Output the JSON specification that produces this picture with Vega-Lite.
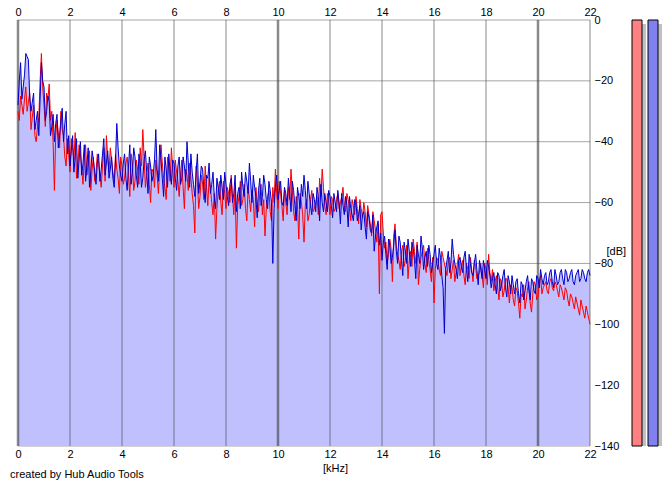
{
  "$schema": "https://vega.github.io/schema/vega-lite/v6.json",
  "description": "Spectrum analyser view, left (red) and right (blue) channels",
  "autosize": {"type": "none"},
  "padding": {"left": 18, "top": 20, "right": 82, "bottom": 40},
  "width": 572,
  "height": 426,
  "background": "white",
  "config": {
    "view": {"stroke": null},
    "font": "Liberation Sans",
    "axis": {"labelFont": "Liberation Sans", "labelFontSize": 11, "labelColor": "black", "titleFont": "Liberation Sans", "titleFontSize": 11, "titleFontWeight": "normal", "titleColor": "black"}
  },
  "title": {
    "text": "created by Hub Audio Tools",
    "orient": "bottom",
    "anchor": "start",
    "frame": "group",
    "fontSize": 11,
    "fontWeight": "normal",
    "font": "Liberation Sans",
    "color": "black",
    "offset": 0,
    "dx": -8,
    "dy": -4
  },
  "datasets": {
    "spec": [
      {"f":0.0,"b":-28,"r":-30},{"f":0.05,"b":-20,"r":-33},{"f":0.1,"b":-14,"r":-25},{"f":0.15,"b":-26,"r":-28},{"f":0.2,"b":-22,"r":-31},{"f":0.25,"b":-18,"r":-26},
      {"f":0.3,"b":-11,"r":-22},{"f":0.35,"b":-12,"r":-30},{"f":0.4,"b":-13,"r":-27},{"f":0.45,"b":-25,"r":-24},{"f":0.5,"b":-30,"r":-36},{"f":0.55,"b":-27,"r":-32},
      {"f":0.6,"b":-24,"r":-28},{"f":0.65,"b":-36,"r":-38},{"f":0.7,"b":-33,"r":-40},{"f":0.75,"b":-30,"r":-35},{"f":0.8,"b":-38,"r":-32},{"f":0.85,"b":-26,"r":-20},
      {"f":0.9,"b":-14,"r":-11},{"f":0.95,"b":-20,"r":-22},{"f":1.0,"b":-22,"r":-28},{"f":1.05,"b":-33,"r":-35},{"f":1.1,"b":-30,"r":-24},{"f":1.15,"b":-25,"r":-26},
      {"f":1.2,"b":-27,"r":-21},{"f":1.25,"b":-38,"r":-33},{"f":1.3,"b":-35,"r":-30},{"f":1.35,"b":-31,"r":-40},{"f":1.4,"b":-40,"r":-56},{"f":1.45,"b":-34,"r":-38},
      {"f":1.5,"b":-31,"r":-33},{"f":1.55,"b":-42,"r":-37},{"f":1.6,"b":-38,"r":-42},{"f":1.65,"b":-33,"r":-30},{"f":1.7,"b":-29,"r":-36},{"f":1.75,"b":-40,"r":-38},
      {"f":1.8,"b":-34,"r":-45},{"f":1.85,"b":-30,"r":-48},{"f":1.9,"b":-44,"r":-39},{"f":1.95,"b":-38,"r":-44},{"f":2.0,"b":-48,"r":-50},{"f":2.05,"b":-43,"r":-39},
      {"f":2.1,"b":-38,"r":-42},{"f":2.15,"b":-50,"r":-46},{"f":2.2,"b":-45,"r":-37},{"f":2.25,"b":-39,"r":-52},{"f":2.3,"b":-52,"r":-48},{"f":2.35,"b":-46,"r":-41},
      {"f":2.4,"b":-40,"r":-44},{"f":2.45,"b":-51,"r":-49},{"f":2.5,"b":-47,"r":-54},{"f":2.55,"b":-41,"r":-45},{"f":2.6,"b":-53,"r":-41},{"f":2.65,"b":-48,"r":-51},
      {"f":2.7,"b":-42,"r":-47},{"f":2.75,"b":-55,"r":-43},{"f":2.8,"b":-50,"r":-56},{"f":2.85,"b":-43,"r":-49},{"f":2.9,"b":-46,"r":-45},{"f":2.95,"b":-50,"r":-53},
      {"f":3.0,"b":-54,"r":-50},{"f":3.05,"b":-47,"r":-44},{"f":3.1,"b":-44,"r":-47},{"f":3.15,"b":-53,"r":-51},{"f":3.2,"b":-49,"r":-55},{"f":3.25,"b":-44,"r":-48},
      {"f":3.3,"b":-39,"r":-42},{"f":3.35,"b":-51,"r":-53},{"f":3.4,"b":-47,"r":-38},{"f":3.45,"b":-43,"r":-45},{"f":3.5,"b":-52,"r":-50},{"f":3.55,"b":-49,"r":-42},
      {"f":3.6,"b":-45,"r":-46},{"f":3.65,"b":-52,"r":-50},{"f":3.7,"b":-55,"r":-53},{"f":3.75,"b":-46,"r":-44},{"f":3.8,"b":-34,"r":-49},{"f":3.85,"b":-42,"r":-52},
      {"f":3.9,"b":-48,"r":-57},{"f":3.95,"b":-51,"r":-45},{"f":4.0,"b":-53,"r":-48},{"f":4.05,"b":-47,"r":-54},{"f":4.1,"b":-44,"r":-52},{"f":4.15,"b":-52,"r":-47},
      {"f":4.2,"b":-56,"r":-45},{"f":4.25,"b":-48,"r":-51},{"f":4.3,"b":-41,"r":-58},{"f":4.35,"b":-54,"r":-44},{"f":4.4,"b":-50,"r":-47},{"f":4.45,"b":-42,"r":-56},
      {"f":4.5,"b":-45,"r":-53},{"f":4.55,"b":-51,"r":-46},{"f":4.6,"b":-55,"r":-49},{"f":4.65,"b":-44,"r":-54},{"f":4.7,"b":-47,"r":-42},{"f":4.75,"b":-55,"r":-48},
      {"f":4.8,"b":-52,"r":-36},{"f":4.85,"b":-46,"r":-45},{"f":4.9,"b":-43,"r":-55},{"f":4.95,"b":-50,"r":-51},{"f":5.0,"b":-57,"r":-47},{"f":5.05,"b":-45,"r":-54},
      {"f":5.1,"b":-48,"r":-60},{"f":5.15,"b":-53,"r":-49},{"f":5.2,"b":-51,"r":-50},{"f":5.25,"b":-46,"r":-55},{"f":5.3,"b":-36,"r":-46},{"f":5.35,"b":-49,"r":-51},
      {"f":5.4,"b":-53,"r":-57},{"f":5.45,"b":-41,"r":-49},{"f":5.5,"b":-46,"r":-41},{"f":5.55,"b":-52,"r":-47},{"f":5.6,"b":-58,"r":-52},{"f":5.65,"b":-45,"r":-55},
      {"f":5.7,"b":-49,"r":-59},{"f":5.75,"b":-55,"r":-45},{"f":5.8,"b":-44,"r":-48},{"f":5.85,"b":-50,"r":-53},{"f":5.9,"b":-54,"r":-42},{"f":5.95,"b":-46,"r":-49},
      {"f":6.0,"b":-47,"r":-55},{"f":6.05,"b":-52,"r":-46},{"f":6.1,"b":-56,"r":-50},{"f":6.15,"b":-48,"r":-53},{"f":6.2,"b":-45,"r":-58},{"f":6.25,"b":-54,"r":-51},
      {"f":6.3,"b":-52,"r":-46},{"f":6.35,"b":-45,"r":-55},{"f":6.4,"b":-48,"r":-62},{"f":6.45,"b":-53,"r":-49},{"f":6.5,"b":-40,"r":-51},{"f":6.55,"b":-47,"r":-56},
      {"f":6.6,"b":-55,"r":-47},{"f":6.65,"b":-44,"r":-52},{"f":6.7,"b":-50,"r":-57},{"f":6.75,"b":-54,"r":-61},{"f":6.8,"b":-58,"r":-70},{"f":6.85,"b":-50,"r":-48},
      {"f":6.9,"b":-44,"r":-53},{"f":6.95,"b":-57,"r":-62},{"f":7.0,"b":-53,"r":-58},{"f":7.05,"b":-48,"r":-51},{"f":7.1,"b":-49,"r":-54},{"f":7.15,"b":-56,"r":-59},
      {"f":7.2,"b":-60,"r":-48},{"f":7.25,"b":-51,"r":-55},{"f":7.3,"b":-52,"r":-61},{"f":7.35,"b":-47,"r":-52},{"f":7.4,"b":-57,"r":-55},{"f":7.45,"b":-54,"r":-60},
      {"f":7.5,"b":-50,"r":-64},{"f":7.55,"b":-58,"r":-57},{"f":7.6,"b":-62,"r":-72},{"f":7.65,"b":-52,"r":-62},{"f":7.7,"b":-55,"r":-56},{"f":7.75,"b":-59,"r":-53},
      {"f":7.8,"b":-51,"r":-60},{"f":7.85,"b":-55,"r":-64},{"f":7.9,"b":-59,"r":-53},{"f":7.95,"b":-50,"r":-57},{"f":8.0,"b":-54,"r":-62},{"f":8.05,"b":-58,"r":-55},
      {"f":8.1,"b":-61,"r":-57},{"f":8.15,"b":-54,"r":-60},{"f":8.2,"b":-52,"r":-51},{"f":8.25,"b":-60,"r":-58},{"f":8.3,"b":-57,"r":-64},{"f":8.35,"b":-51,"r":-55},
      {"f":8.4,"b":-63,"r":-75},{"f":8.45,"b":-57,"r":-61},{"f":8.5,"b":-55,"r":-58},{"f":8.55,"b":-62,"r":-53},{"f":8.6,"b":-50,"r":-61},{"f":8.65,"b":-55,"r":-59},
      {"f":8.7,"b":-58,"r":-54},{"f":8.75,"b":-50,"r":-62},{"f":8.8,"b":-53,"r":-66},{"f":8.85,"b":-57,"r":-55},{"f":8.9,"b":-47,"r":-59},{"f":8.95,"b":-53,"r":-63},
      {"f":9.0,"b":-60,"r":-56},{"f":9.05,"b":-51,"r":-59},{"f":9.1,"b":-55,"r":-68},{"f":9.15,"b":-58,"r":-55},{"f":9.2,"b":-65,"r":-60},{"f":9.25,"b":-56,"r":-63},
      {"f":9.3,"b":-52,"r":-57},{"f":9.35,"b":-61,"r":-54},{"f":9.4,"b":-58,"r":-64},{"f":9.45,"b":-51,"r":-59},{"f":9.5,"b":-54,"r":-71},{"f":9.55,"b":-59,"r":-62},
      {"f":9.6,"b":-62,"r":-58},{"f":9.65,"b":-53,"r":-56},{"f":9.7,"b":-56,"r":-63},{"f":9.75,"b":-60,"r":-66},{"f":9.8,"b":-80,"r":-55},{"f":9.85,"b":-62,"r":-60},
      {"f":9.9,"b":-55,"r":-49},{"f":9.95,"b":-51,"r":-57},{"f":10.0,"b":-59,"r":-62},{"f":10.05,"b":-56,"r":-53},{"f":10.1,"b":-53,"r":-57},{"f":10.15,"b":-60,"r":-61},
      {"f":10.2,"b":-61,"r":-66},{"f":10.25,"b":-55,"r":-56},{"f":10.3,"b":-57,"r":-60},{"f":10.35,"b":-61,"r":-64},{"f":10.4,"b":-52,"r":-55},{"f":10.45,"b":-57,"r":-59},
      {"f":10.5,"b":-63,"r":-49},{"f":10.55,"b":-53,"r":-56},{"f":10.6,"b":-56,"r":-63},{"f":10.65,"b":-61,"r":-66},{"f":10.7,"b":-66,"r":-58},{"f":10.75,"b":-55,"r":-61},
      {"f":10.8,"b":-58,"r":-72},{"f":10.85,"b":-62,"r":-57},{"f":10.9,"b":-54,"r":-60},{"f":10.95,"b":-58,"r":-64},{"f":11.0,"b":-51,"r":-73},{"f":11.05,"b":-56,"r":-61},
      {"f":11.1,"b":-62,"r":-59},{"f":11.15,"b":-53,"r":-66},{"f":11.2,"b":-57,"r":-64},{"f":11.25,"b":-61,"r":-59},{"f":11.3,"b":-64,"r":-56},{"f":11.35,"b":-57,"r":-63},
      {"f":11.4,"b":-59,"r":-62},{"f":11.45,"b":-63,"r":-60},{"f":11.5,"b":-55,"r":-58},{"f":11.55,"b":-58,"r":-64},{"f":11.6,"b":-66,"r":-52},{"f":11.65,"b":-54,"r":-58},
      {"f":11.7,"b":-60,"r":-49},{"f":11.75,"b":-63,"r":-55},{"f":11.8,"b":-57,"r":-61},{"f":11.85,"b":-60,"r":-64},{"f":11.9,"b":-63,"r":-57},{"f":11.95,"b":-56,"r":-60},
      {"f":12.0,"b":-58,"r":-64},{"f":12.05,"b":-61,"r":-58},{"f":12.1,"b":-65,"r":-59},{"f":12.15,"b":-57,"r":-63},{"f":12.2,"b":-60,"r":-62},{"f":12.25,"b":-63,"r":-59},
      {"f":12.3,"b":-56,"r":-57},{"f":12.35,"b":-60,"r":-62},{"f":12.4,"b":-67,"r":-60},{"f":12.45,"b":-57,"r":-58},{"f":12.5,"b":-61,"r":-55},{"f":12.55,"b":-64,"r":-61},
      {"f":12.6,"b":-58,"r":-63},{"f":12.65,"b":-61,"r":-57},{"f":12.7,"b":-68,"r":-59},{"f":12.75,"b":-58,"r":-62},{"f":12.8,"b":-62,"r":-66},{"f":12.85,"b":-64,"r":-59},
      {"f":12.9,"b":-66,"r":-61},{"f":12.95,"b":-59,"r":-64},{"f":13.0,"b":-60,"r":-58},{"f":13.05,"b":-66,"r":-62},{"f":13.1,"b":-64,"r":-67},{"f":13.15,"b":-61,"r":-59},
      {"f":13.2,"b":-69,"r":-62},{"f":13.25,"b":-64,"r":-65},{"f":13.3,"b":-63,"r":-60},{"f":13.35,"b":-68,"r":-63},{"f":13.4,"b":-72,"r":-68},{"f":13.45,"b":-63,"r":-61},
      {"f":13.5,"b":-65,"r":-64},{"f":13.55,"b":-69,"r":-67},{"f":13.6,"b":-70,"r":-71},{"f":13.65,"b":-64,"r":-63},{"f":13.7,"b":-76,"r":-66},{"f":13.75,"b":-71,"r":-69},
      {"f":13.8,"b":-68,"r":-73},{"f":13.85,"b":-66,"r":-67},{"f":13.9,"b":-74,"r":-90},{"f":13.95,"b":-70,"r":-64},{"f":14.0,"b":-79,"r":-63},{"f":14.05,"b":-73,"r":-70},
      {"f":14.1,"b":-71,"r":-75},{"f":14.15,"b":-77,"r":-73},{"f":14.2,"b":-82,"r":-80},{"f":14.25,"b":-72,"r":-77},{"f":14.3,"b":-74,"r":-72},{"f":14.35,"b":-80,"r":-75},
      {"f":14.4,"b":-78,"r":-86},{"f":14.45,"b":-74,"r":-71},{"f":14.5,"b":-69,"r":-67},{"f":14.55,"b":-76,"r":-74},{"f":14.6,"b":-80,"r":-77},{"f":14.65,"b":-71,"r":-79},
      {"f":14.7,"b":-73,"r":-82},{"f":14.75,"b":-79,"r":-76},{"f":14.8,"b":-84,"r":-74},{"f":14.85,"b":-73,"r":-81},{"f":14.9,"b":-76,"r":-79},{"f":14.95,"b":-80,"r":-74},
      {"f":15.0,"b":-72,"r":-85},{"f":15.05,"b":-76,"r":-79},{"f":15.1,"b":-81,"r":-76},{"f":15.15,"b":-73,"r":-81},{"f":15.2,"b":-75,"r":-72},{"f":15.25,"b":-79,"r":-76},
      {"f":15.3,"b":-85,"r":-80},{"f":15.35,"b":-74,"r":-73},{"f":15.4,"b":-77,"r":-87},{"f":15.45,"b":-80,"r":-82},{"f":15.5,"b":-71,"r":-78},{"f":15.55,"b":-75,"r":-76},
      {"f":15.6,"b":-82,"r":-74},{"f":15.65,"b":-78,"r":-80},{"f":15.7,"b":-76,"r":-83},{"f":15.75,"b":-81,"r":-75},{"f":15.8,"b":-74,"r":-79},{"f":15.85,"b":-77,"r":-82},
      {"f":15.9,"b":-83,"r":-86},{"f":15.95,"b":-80,"r":-78},{"f":16.0,"b":-77,"r":-93},{"f":16.05,"b":-74,"r":-82},{"f":16.1,"b":-80,"r":-78},{"f":16.15,"b":-82,"r":-79},
      {"f":16.2,"b":-75,"r":-82},{"f":16.25,"b":-78,"r":-84},{"f":16.3,"b":-84,"r":-76},{"f":16.35,"b":-88,"r":-78},{"f":16.4,"b":-103,"r":-80},{"f":16.45,"b":-82,"r":-82},
      {"f":16.5,"b":-79,"r":-84},{"f":16.55,"b":-76,"r":-79},{"f":16.6,"b":-83,"r":-78},{"f":16.65,"b":-80,"r":-85},{"f":16.7,"b":-72,"r":-82},{"f":16.75,"b":-77,"r":-79},
      {"f":16.8,"b":-80,"r":-86},{"f":16.85,"b":-82,"r":-83},{"f":16.9,"b":-85,"r":-80},{"f":16.95,"b":-79,"r":-77},{"f":17.0,"b":-78,"r":-84},{"f":17.05,"b":-81,"r":-81},
      {"f":17.1,"b":-83,"r":-79},{"f":17.15,"b":-78,"r":-84},{"f":17.2,"b":-76,"r":-87},{"f":17.25,"b":-82,"r":-80},{"f":17.3,"b":-86,"r":-82},{"f":17.35,"b":-77,"r":-85},
      {"f":17.4,"b":-80,"r":-78},{"f":17.45,"b":-83,"r":-82},{"f":17.5,"b":-84,"r":-86},{"f":17.55,"b":-80,"r":-79},{"f":17.6,"b":-77,"r":-81},{"f":17.65,"b":-82,"r":-85},
      {"f":17.7,"b":-87,"r":-84},{"f":17.75,"b":-79,"r":-83},{"f":17.8,"b":-82,"r":-80},{"f":17.85,"b":-85,"r":-84},{"f":17.9,"b":-79,"r":-88},{"f":17.95,"b":-82,"r":-80},
      {"f":18.0,"b":-85,"r":-82},{"f":18.05,"b":-79,"r":-87},{"f":18.1,"b":-81,"r":-77},{"f":18.15,"b":-84,"r":-83},{"f":18.2,"b":-88,"r":-86},{"f":18.25,"b":-85,"r":-82},
      {"f":18.3,"b":-83,"r":-89},{"f":18.35,"b":-87,"r":-86},{"f":18.4,"b":-90,"r":-84},{"f":18.45,"b":-83,"r":-88},{"f":18.5,"b":-84,"r":-92},{"f":18.55,"b":-89,"r":-85},
      {"f":18.6,"b":-87,"r":-86},{"f":18.65,"b":-84,"r":-91},{"f":18.7,"b":-82,"r":-89},{"f":18.75,"b":-88,"r":-85},{"f":18.8,"b":-91,"r":-85},{"f":18.85,"b":-84,"r":-88},
      {"f":18.9,"b":-86,"r":-93},{"f":18.95,"b":-90,"r":-87},{"f":19.0,"b":-84,"r":-88},{"f":19.05,"b":-87,"r":-92},{"f":19.1,"b":-90,"r":-94},{"f":19.15,"b":-86,"r":-88},
      {"f":19.2,"b":-85,"r":-89},{"f":19.25,"b":-90,"r":-93},{"f":19.3,"b":-93,"r":-98},{"f":19.35,"b":-86,"r":-90},{"f":19.4,"b":-87,"r":-91},{"f":19.45,"b":-92,"r":-87},
      {"f":19.5,"b":-89,"r":-95},{"f":19.55,"b":-86,"r":-92},{"f":19.6,"b":-84,"r":-88},{"f":19.65,"b":-89,"r":-86},{"f":19.7,"b":-92,"r":-93},{"f":19.75,"b":-85,"r":-96},
      {"f":19.8,"b":-86,"r":-90},{"f":19.85,"b":-89,"r":-86},{"f":19.9,"b":-90,"r":-87},{"f":19.95,"b":-84,"r":-92},{"f":20.0,"b":-85,"r":-91},{"f":20.05,"b":-88,"r":-86},
      {"f":20.1,"b":-82,"r":-84},{"f":20.15,"b":-85,"r":-90},{"f":20.2,"b":-87,"r":-88},{"f":20.25,"b":-84,"r":-87},{"f":20.3,"b":-83,"r":-86},{"f":20.35,"b":-87,"r":-89},
      {"f":20.4,"b":-86,"r":-90},{"f":20.45,"b":-83,"r":-86},{"f":20.5,"b":-82,"r":-85},{"f":20.55,"b":-86,"r":-88},{"f":20.6,"b":-88,"r":-89},{"f":20.65,"b":-82,"r":-86},
      {"f":20.7,"b":-84,"r":-87},{"f":20.75,"b":-87,"r":-89},{"f":20.8,"b":-86,"r":-91},{"f":20.85,"b":-83,"r":-87},{"f":20.9,"b":-82,"r":-88},{"f":20.95,"b":-85,"r":-90},
      {"f":21.0,"b":-87,"r":-92},{"f":21.05,"b":-82,"r":-88},{"f":21.1,"b":-83,"r":-89},{"f":21.15,"b":-86,"r":-92},{"f":21.2,"b":-85,"r":-94},{"f":21.25,"b":-83,"r":-90},
      {"f":21.3,"b":-82,"r":-91},{"f":21.35,"b":-86,"r":-93},{"f":21.4,"b":-87,"r":-95},{"f":21.45,"b":-84,"r":-91},{"f":21.5,"b":-83,"r":-93},{"f":21.55,"b":-82,"r":-95},
      {"f":21.6,"b":-86,"r":-97},{"f":21.65,"b":-85,"r":-92},{"f":21.7,"b":-82,"r":-94},{"f":21.75,"b":-83,"r":-96},{"f":21.8,"b":-85,"r":-98},{"f":21.85,"b":-86,"r":-94},
      {"f":21.9,"b":-83,"r":-96},{"f":21.95,"b":-82,"r":-98},{"f":22.0,"b":-84,"r":-100}
    ],
    "vgrid": [
      {"f":0},{"f":2},{"f":4},{"f":6},{"f":8},{"f":10},{"f":12},{"f":14},{"f":16},{"f":18},{"f":20},{"f":22}
    ],
    "hgrid": [
      {"db":0},{"db":-20},{"db":-40},{"db":-60},{"db":-80},{"db":-100},{"db":-120},{"db":-140}
    ],
    "meters": [
      {"ch":"L","level":0},{"ch":"R","level":0}
    ]
  },
  "resolve": {"scale": {"x": "independent"}, "axis": {"x": "independent"}},
  "layer": [
    {
      "data": {"name": "hgrid"},
      "mark": {"type": "rule", "color": "#a6a6a6", "strokeWidth": 1},
      "encoding": {
        "y": {"field": "db", "type": "quantitative", "scale": {"domain": [-140, 0], "nice": false, "zero": false},
          "axis": {"orient": "right", "values": [0, -20, -40, -60, -80, -100, -120, -140], "grid": false, "ticks": false, "domain": false,
            "labelPadding": 4, "labelAlign": "left", "labelBaseline": "middle", "labelFlush": false,
            "title": "[dB]", "titleAngle": 0, "titleAlign": "left", "titleBaseline": "middle", "titleX": 16, "titleY": 231}}
      }
    },
    {
      "data": {"name": "spec"},
      "mark": {"type": "area", "color": "#c0c0ff", "interpolate": "linear"},
      "encoding": {
        "x": {"field": "f", "type": "quantitative", "scale": {"domain": [0, 22], "nice": false, "zero": false},
          "axis": {"orient": "bottom", "values": [0, 2, 4, 6, 8, 10, 12, 14, 16, 18, 20, 22], "grid": false, "ticks": false, "domain": false,
            "labelPadding": 2, "labelFlush": false,
            "title": "[kHz]", "titleX": 317, "titleY": 22, "titleBaseline": "middle", "titleAlign": "center"}},
        "y": {"field": "b", "type": "quantitative"},
        "y2": {"datum": -140}
      }
    },
    {
      "data": {"name": "spec"},
      "mark": {"type": "area", "color": "#c0c0ff", "interpolate": "linear"},
      "encoding": {
        "x": {"field": "f", "type": "quantitative", "scale": {"domain": [0, 22], "nice": false, "zero": false},
          "axis": {"orient": "top", "values": [0, 2, 4, 6, 8, 10, 12, 14, 16, 18, 20, 22], "grid": false, "ticks": false, "domain": false,
            "labelPadding": 3, "labelFlush": false, "title": null}},
        "y": {"field": "r", "type": "quantitative"},
        "y2": {"datum": -140}
      }
    },
    {
      "data": {"name": "vgrid"},
      "mark": {"type": "rule", "color": "#3c3c3c", "opacity": 0.6},
      "encoding": {
        "x": {"field": "f", "type": "quantitative", "scale": {"domain": [0, 22], "nice": false, "zero": false}, "axis": null},
        "strokeWidth": {"condition": {"test": "datum.f % 10 === 0", "value": 2.5}, "value": 1}
      }
    },
    {
      "data": {"name": "spec"},
      "mark": {"type": "line", "color": "#ff0000", "strokeWidth": 1, "interpolate": "linear"},
      "encoding": {
        "x": {"field": "f", "type": "quantitative", "scale": {"domain": [0, 22], "nice": false, "zero": false}, "axis": null},
        "y": {"field": "r", "type": "quantitative"}
      }
    },
    {
      "data": {"name": "spec"},
      "mark": {"type": "line", "color": "#0000d0", "strokeWidth": 1, "interpolate": "linear"},
      "encoding": {
        "x": {"field": "f", "type": "quantitative", "scale": {"domain": [0, 22], "nice": false, "zero": false}, "axis": null},
        "y": {"field": "b", "type": "quantitative"}
      }
    },
    {
      "data": {"name": "meters"},
      "mark": {"type": "bar", "color": "#c0c0c0", "xOffset": 4, "yOffset": 4, "clip": false},
      "encoding": {
        "x": {"field": "ch", "type": "nominal", "axis": null,
          "scale": {"type": "band", "range": [614, 640], "paddingInner": 0.375, "paddingOuter": 0}},
        "y": {"field": "level", "type": "quantitative"},
        "y2": {"datum": -140}
      }
    },
    {
      "data": {"name": "meters"},
      "mark": {"type": "bar", "stroke": "black", "strokeWidth": 1, "clip": false},
      "encoding": {
        "x": {"field": "ch", "type": "nominal", "axis": null,
          "scale": {"type": "band", "range": [614, 640], "paddingInner": 0.375, "paddingOuter": 0}},
        "y": {"field": "level", "type": "quantitative"},
        "y2": {"datum": -140},
        "fill": {"field": "ch", "type": "nominal", "legend": null,
          "scale": {"domain": ["L", "R"], "range": ["#ff8080", "#8080f0"]}}
      }
    }
  ]
}
